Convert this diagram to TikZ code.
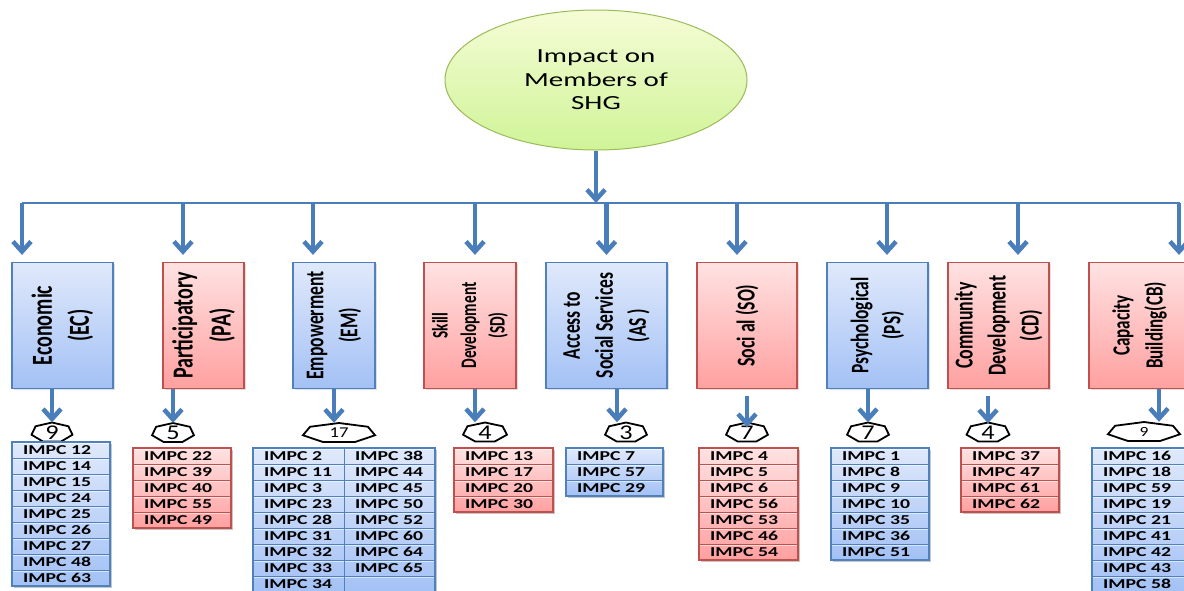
\documentclass[tikz,border=0pt]{standalone}
\usepackage{fontspec}
\setmainfont{Carlito}
\newfontfamily\wfont[FakeStretch=1.45]{Carlito}
\newfontfamily\rfont[FakeStretch=0.69]{Carlito}
\newfontfamily\nfont[FakeStretch=1.25]{Carlito}
\usetikzlibrary{arrows.meta,shapes.geometric,shadows,calc}
\definecolor{arrblue}{RGB}{74,126,187}
\definecolor{bbord}{RGB}{79,129,189}
\definecolor{btop}{RGB}{224,233,251}
\definecolor{bbot}{RGB}{163,193,245}
\definecolor{rbord}{RGB}{192,80,77}
\definecolor{rtop}{RGB}{255,226,226}
\definecolor{rbot}{RGB}{255,160,160}
\definecolor{gtop}{RGB}{245,252,214}
\definecolor{gbot}{RGB}{208,244,152}
\definecolor{gbord}{RGB}{155,187,89}
\tikzset{
  arr/.style={draw=arrblue, line width=4.5pt, -{Straight Barb[length=10pt,width=18pt]}},
  busline/.style={draw=arrblue, line width=1.5pt},
  catbox/.style={draw, line width=1.2pt, minimum height=126pt, inner sep=0pt,
    drop shadow={opacity=0.25, shadow xshift=1.5pt, shadow yshift=-1.5pt}},
  bluebox/.style={catbox, draw=bbord, top color=btop, bottom color=bbot},
  redbox/.style={catbox, draw=rbord, top color=rtop, bottom color=rbot},
  boxtxt/.style 2 args={rotate=90, align=center, inner sep=0pt,
    font=\fontsize{#1}{#2}\selectfont\rfont\bfseries},
  num/.style={inner sep=0pt, minimum height=20pt},
  cell/.style={anchor=west, inner sep=0pt, font=\fontsize{13.6}{16}\selectfont\wfont\bfseries},
  pics/hepta/.style 2 args={code={
    \draw[line width=1.8pt, fill=white] (-90:#1 and #2) -- (-38.57:#1 and #2) -- (12.86:#1 and #2)
      -- (64.29:#1 and #2) -- (115.71:#1 and #2) -- (167.14:#1 and #2) -- (218.57:#1 and #2) -- cycle;}}
}
% #1 name, #2 x, #3 y, #4 width, #5 rows, #6 colour prefix, #7 items
\newcommand\mktab[7]{%
  \fill[black, opacity=0.22] (#2+1.5,#3+1.5) rectangle (#2+#4+1.5,#3+#5*16+1.5);
  \shade[top color=#6top, bottom color=#6bot] (#2,#3) rectangle (#2+#4,#3+#5*16);
  \foreach \k in {1,...,#5} {
    \draw[white, opacity=0.55, line width=0.8pt] (#2+1,#3+\k*16-14.8) -- (#2+#4-1,#3+\k*16-14.8);
    \draw[#6bord, line width=0.9pt] (#2,#3+\k*16) -- (#2+#4,#3+\k*16);}
  \draw[#6bord, line width=1.3pt] (#2,#3) rectangle (#2+#4,#3+#5*16);
  \foreach \itm [count=\i] in {#7} {\node[cell] (#1-\i) at (#2+11,#3+\i*16-8) {\itm};}
}
\begin{document}
\begin{tikzpicture}[x=1pt,y=-1pt]
\useasboundingbox (0,0) rectangle (1184,590);

% root
\node[ellipse, draw=gbord, line width=1pt, top color=gtop, bottom color=gbot,
  minimum width=302pt, minimum height=140pt, inner sep=0pt, align=center,
  font=\fontsize{20}{23.5}\selectfont\wfont] (root) at (596,80) {Impact on\\Members of\\SHG};

\coordinate (busL) at (22,203);
\coordinate (busR) at (1180,203);
\draw[busline] (busL) -- (busR);
\draw[arr] (root.south) -- (root.south |- busL);

% category boxes
\node[bluebox, minimum width=101pt] (ec) at (62.5,325.5) {};
\node[redbox, minimum width=81pt] (pa) at (203.5,325.5) {};
\node[bluebox, minimum width=82pt] (em) at (334,325.5) {};
\node[redbox, minimum width=92pt] (sd) at (470,325.5) {};
\node[bluebox, minimum width=121pt] (acs) at (606.5,325.5) {};
\node[redbox, minimum width=100pt] (so) at (747,325.5) {};
\node[bluebox, minimum width=101pt] (ps) at (877.5,325.5) {};
\node[redbox, minimum width=101pt] (cd) at (998.5,325.5) {};
\node[redbox, minimum width=101pt] (cb) at (1139.5,325.5) {};

\node[boxtxt={29}{37}] at (ec) {Economic\\(EC)};
\node[boxtxt={29}{38}] at (pa) {Participatory\\(PA)};
\node[boxtxt={25.5}{34}] at (em) {Empowerment\\(EM)};
\node[boxtxt={22.2}{28.5}] at (sd) {Skill\\Development\\(SD)};
\node[boxtxt={25.4}{33}] at (acs) {Access to\\Social Services\\(AS )};
\node[boxtxt={25.7}{33}] at (so) {Soci al (SO)};
\node[boxtxt={25.2}{32}] at (ps) {Psychological\\(PS)};
\node[boxtxt={25.8}{33}] at (cd) {Community\\Development\\(CD)};
\node[boxtxt={24.7}{33}] at (cb) {Capacity\\Building(CB)};

% arrows from bus to boxes
\foreach \n/\dx in {ec/-40.5, pa/-20.5, em/-21, sd/5, acs/0, so/-10, ps/9.5, cd/19.5, cb/39.5} {
  \path (\n.north) ++(\dx,-7) coordinate (\n-in);
  \draw[arr] (\n-in |- busL) -- (\n-in);
}

% badges
\foreach \b/\x/\y/\rx/\txt/\fs in {bec/52/432.5/21/9/21, bpa/173/433/21.5/5/21, bem/339/433/37/17/15,
  bsd/485/432.5/22.5/4/21, bacs/626/432.5/21.5/3/21, bso/747/432.5/21.5/7/21, bps/868/432.5/21.5/7/21,
  bcd/988/432.5/22/4/21, bcb/1144/432/37/9/14} {
  \pic at (\x,\y) {hepta={\rx}{10}};
  \node[num, font=\fontsize{\fs}{\fs}\selectfont\nfont] (\b) at (\x,\y) {\txt};
}

% arrows from boxes to badges
\foreach \n/\dx/\gap/\b/\tip in {ec/-10.5/0/bec/0, pa/-30.5/0/bpa/0, em/0/0/bem/0, sd/5/0/bsd/0,
  acs/10.5/0/bacs/0, so/0/7/bso/5, ps/-9.5/0/bps/0, cd/-10.5/7/bcd/1, cb/19.5/0/bcb/0} {
  \path (\n.south) ++(\dx,\gap) coordinate (\n-out);
  \draw[arr] (\n-out) -- ($(\n-out |- \b.north)+(0,\tip)$);
}

% tables
\mktab{tec}{12}{442}{98}{9}{b}{IMPC 12,IMPC 14,IMPC 15,IMPC 24,IMPC 25,IMPC 26,IMPC 27,IMPC 48,IMPC 63}
\mktab{tpa}{133}{448}{98}{5}{r}{IMPC 22,IMPC 39,IMPC 40,IMPC 55,IMPC 49}
\mktab{tem}{253}{448}{182}{9}{b}{IMPC 2,IMPC 11,IMPC 3,IMPC 23,IMPC 28,IMPC 31,IMPC 32,IMPC 33,IMPC 34}
\draw[bbord, line width=0.9pt] (344,448) -- (344,592);
\foreach \itm [count=\i] in {IMPC 38,IMPC 44,IMPC 45,IMPC 50,IMPC 52,IMPC 60,IMPC 64,IMPC 65}
  {\node[cell] (tem2-\i) at (355,448+\i*16-8) {\itm};}
\mktab{tsd}{454}{448}{99}{4}{r}{IMPC 13,IMPC 17,IMPC 20,IMPC 30}
\mktab{tacs}{566}{448}{97}{3}{b}{IMPC 7,IMPC 57,IMPC 29}
\mktab{tso}{699}{448}{99}{7}{r}{IMPC 4,IMPC 5,IMPC 6,IMPC 56,IMPC 53,IMPC 46,IMPC 54}
\mktab{tps}{831}{448}{98}{7}{b}{IMPC 1,IMPC 8,IMPC 9,IMPC 10,IMPC 35,IMPC 36,IMPC 51}
\mktab{tcd}{961}{448}{98}{4}{r}{IMPC 37,IMPC 47,IMPC 61,IMPC 62}
\mktab{tcb}{1092}{448}{98}{9}{b}{IMPC 16,IMPC 18,IMPC 59,IMPC 19,IMPC 21,IMPC 41,IMPC 42,IMPC 43,IMPC 58}
\end{tikzpicture}
\end{document}
